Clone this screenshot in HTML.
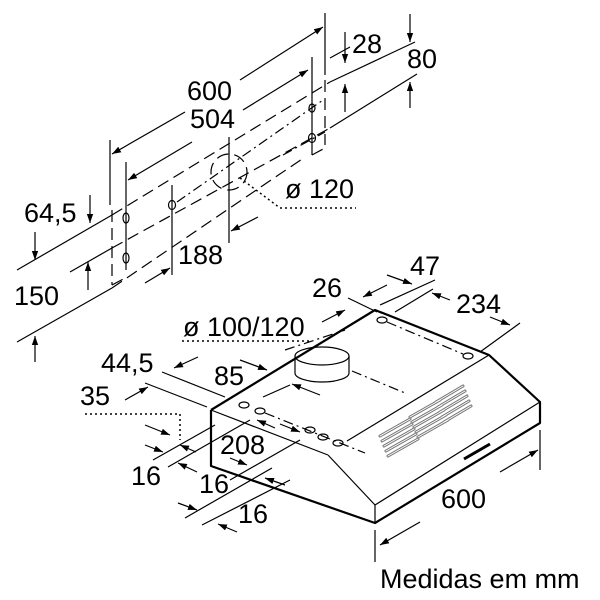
<!DOCTYPE html>
<html><head><meta charset="utf-8"><style>
html,body{margin:0;padding:0;background:#fff;width:600px;height:600px;overflow:hidden}
svg{display:block}
text{font-family:"Liberation Sans",sans-serif;fill:#000}
</style></head><body>
<svg width="600" height="600" viewBox="0 0 600 600" xmlns="http://www.w3.org/2000/svg">
<defs>
<marker id="a" viewBox="0 0 10 10" refX="10" refY="5" markerWidth="9" markerHeight="9" orient="auto-start-reverse" markerUnits="userSpaceOnUse"><path d="M0,1.5 L10,5 L0,8.5 z" fill="#000"/></marker>
</defs>
<g stroke="#000" stroke-width="1.2" fill="none">
<line x1="110" y1="140" x2="110" y2="205"/>
<line x1="325" y1="13" x2="325" y2="75"/>
<line x1="126" y1="162" x2="126" y2="270"/>
<line x1="312" y1="57" x2="312" y2="155"/>
<line x1="172" y1="185" x2="172" y2="275"/>
<line x1="229" y1="137" x2="229" y2="243"/>
<line x1="112" y1="154" x2="185" y2="112" marker-start="url(#a)"/>
<line x1="240" y1="80" x2="323" y2="27" marker-end="url(#a)"/>
<line x1="128" y1="180" x2="192" y2="142" marker-start="url(#a)"/>
<line x1="243" y1="110" x2="308" y2="70" marker-end="url(#a)"/>
<line x1="17" y1="270" x2="112" y2="215"/>
<line x1="330" y1="82" x2="415" y2="42"/>
<line x1="70" y1="272" x2="112" y2="248"/>
<line x1="330" y1="128" x2="417" y2="74"/>
<line x1="17" y1="342" x2="112" y2="288"/>
<line x1="330" y1="58" x2="350" y2="47"/>
<g stroke-dasharray="12,6">
<line x1="112" y1="215" x2="330" y2="82"/>
<line x1="112" y1="248" x2="330" y2="128"/>
<line x1="112" y1="288" x2="305" y2="157"/>
<line x1="112" y1="210" x2="112" y2="285"/>
<line x1="325" y1="80" x2="325" y2="145"/>
<line x1="112" y1="285" x2="127" y2="277"/>
<line x1="312" y1="155" x2="325" y2="148"/>
<circle cx="229" cy="172" r="18"/>
</g>
<g stroke-dasharray="10,4,2,4">
<line x1="177" y1="202" x2="323" y2="100"/>
<line x1="283" y1="155" x2="325" y2="132"/>
</g>
<ellipse cx="126" cy="218" rx="3" ry="5"/>
<ellipse cx="126" cy="258" rx="3" ry="5"/>
<ellipse cx="172" cy="205" rx="3.5" ry="4.5"/>
<ellipse cx="312" cy="108" rx="3" ry="4"/>
<ellipse cx="312" cy="138" rx="3.5" ry="4.5"/>
<polyline points="240,178 280,208 356,208" stroke-dasharray="2,3" stroke-width="1.5"/>
<line x1="145" y1="283" x2="170" y2="268" marker-end="url(#a)"/>
<line x1="258" y1="217" x2="231" y2="231" marker-end="url(#a)"/>
<line x1="345" y1="32" x2="345" y2="63" marker-end="url(#a)"/>
<line x1="345" y1="112" x2="345" y2="84" marker-end="url(#a)"/>
<line x1="410" y1="14" x2="410" y2="42" marker-end="url(#a)"/>
<line x1="410" y1="108" x2="410" y2="82" marker-end="url(#a)"/>
<line x1="90" y1="195" x2="90" y2="223" marker-end="url(#a)"/>
<line x1="35" y1="232" x2="35" y2="260" marker-end="url(#a)"/>
<line x1="88" y1="290" x2="88" y2="262" marker-end="url(#a)"/>
<line x1="35" y1="362" x2="35" y2="336" marker-end="url(#a)"/>

<g stroke-width="2.2" stroke-linejoin="round">
<polyline points="211,410 375,310 489,355 540,402 540,423 375,523 211,466 211,410"/>
</g>
<line x1="211" y1="410" x2="328" y2="455"/>
<line x1="328" y1="455" x2="375" y2="505"/>
<line x1="375" y1="505" x2="540" y2="402"/>
<line x1="375" y1="505" x2="375" y2="523"/>
<line x1="347" y1="441" x2="489" y2="355"/>
<ellipse cx="322" cy="356" rx="27" ry="9"/>
<path d="M295,356 L295,373 A27,9 0 0 0 349,373 L349,356"/>
<ellipse cx="382" cy="320" rx="5" ry="3"/>
<ellipse cx="468" cy="356" rx="5" ry="3"/>
<ellipse cx="244" cy="405" rx="5" ry="3"/>
<ellipse cx="260" cy="411" rx="5" ry="3"/>
<ellipse cx="310" cy="430" rx="5" ry="3"/>
<ellipse cx="323" cy="437" rx="5" ry="3"/>
<ellipse cx="338" cy="443" rx="5" ry="3"/>
<g stroke-dasharray="10,4,2,4">
<line x1="387" y1="322" x2="463" y2="354"/>
<line x1="352" y1="371" x2="405" y2="393"/>
<line x1="285" y1="350" x2="345" y2="330"/>
<line x1="265" y1="413" x2="365" y2="453"/>
</g>
<line x1="464" y1="459" x2="490" y2="444" stroke-width="3"/>
<g stroke="#777" stroke-width="3" stroke-linecap="round">
<line x1="380" y1="436" x2="410" y2="419"/><line x1="382" y1="441" x2="412" y2="424"/><line x1="384" y1="446" x2="414" y2="429"/><line x1="386" y1="451" x2="416" y2="434"/><line x1="388" y1="456" x2="418" y2="439"/>
<line x1="410" y1="417" x2="440" y2="400"/><line x1="412" y1="422" x2="442" y2="405"/><line x1="414" y1="427" x2="444" y2="410"/><line x1="416" y1="432" x2="446" y2="415"/><line x1="418" y1="437" x2="448" y2="420"/>
<line x1="436" y1="402" x2="463" y2="386"/><line x1="438" y1="407" x2="465" y2="391"/><line x1="440" y1="412" x2="467" y2="396"/><line x1="442" y1="417" x2="469" y2="401"/><line x1="444" y1="422" x2="471" y2="406"/>
</g>
<g stroke="#fff" stroke-width="1" stroke-linecap="round">
<line x1="380" y1="436" x2="410" y2="419"/><line x1="382" y1="441" x2="412" y2="424"/><line x1="384" y1="446" x2="414" y2="429"/><line x1="386" y1="451" x2="416" y2="434"/><line x1="388" y1="456" x2="418" y2="439"/>
<line x1="410" y1="417" x2="440" y2="400"/><line x1="412" y1="422" x2="442" y2="405"/><line x1="414" y1="427" x2="444" y2="410"/><line x1="416" y1="432" x2="446" y2="415"/><line x1="418" y1="437" x2="448" y2="420"/>
<line x1="436" y1="402" x2="463" y2="386"/><line x1="438" y1="407" x2="465" y2="391"/><line x1="440" y1="412" x2="467" y2="396"/><line x1="442" y1="417" x2="469" y2="401"/><line x1="444" y1="422" x2="471" y2="406"/>
</g>
<line x1="348" y1="298" x2="377" y2="312"/>
<line x1="380" y1="305" x2="435" y2="280"/>
<line x1="395" y1="312" x2="433" y2="289"/>
<line x1="480" y1="352" x2="520" y2="323"/>
<line x1="387" y1="285" x2="363" y2="297" marker-end="url(#a)"/>
<line x1="387" y1="275" x2="412" y2="284" marker-end="url(#a)"/>
<line x1="450" y1="300" x2="432" y2="293" marker-end="url(#a)"/>
<line x1="490" y1="317" x2="510" y2="325" marker-end="url(#a)"/>
<line x1="322" y1="322" x2="345" y2="310" marker-end="url(#a)"/>
<polyline points="182,341 310,341" stroke-dasharray="2,3" stroke-width="1.5"/>
<line x1="162" y1="372" x2="225" y2="397"/>
<line x1="145" y1="383" x2="207" y2="407"/>
<line x1="198" y1="357" x2="174" y2="368" marker-end="url(#a)"/>
<line x1="240" y1="360" x2="267" y2="370" marker-end="url(#a)"/>
<line x1="320" y1="395" x2="292" y2="384" marker-end="url(#a)"/>
<line x1="263" y1="397" x2="290" y2="385"/>
<line x1="125" y1="400" x2="148" y2="387" marker-end="url(#a)"/>
<line x1="145" y1="425" x2="170" y2="435" marker-end="url(#a)"/>
<polyline points="85,414 180,414 180,440" stroke-dasharray="2,3" stroke-width="1.5"/>
<line x1="153" y1="460" x2="215" y2="425"/>
<line x1="168" y1="467" x2="250" y2="420"/>
<line x1="185" y1="518" x2="272" y2="468"/>
<line x1="202" y1="525" x2="290" y2="480"/>
<line x1="230" y1="480" x2="300" y2="440"/>
<line x1="145" y1="445" x2="163" y2="452" marker-end="url(#a)"/>
<line x1="196" y1="452" x2="180" y2="445" marker-end="url(#a)"/>
<line x1="197" y1="472" x2="178" y2="463" marker-end="url(#a)"/>
<line x1="230" y1="458" x2="247" y2="465" marker-end="url(#a)"/>
<line x1="285" y1="485" x2="265" y2="478" marker-end="url(#a)"/>
<line x1="178" y1="503" x2="197" y2="510" marker-end="url(#a)"/>
<line x1="237" y1="532" x2="218" y2="524" marker-end="url(#a)"/>
<line x1="275" y1="428" x2="257" y2="420" marker-end="url(#a)"/>
<line x1="280" y1="424" x2="300" y2="432" marker-end="url(#a)"/>
<line x1="375" y1="530" x2="375" y2="562"/>
<line x1="540" y1="430" x2="540" y2="470"/>
<line x1="420" y1="522" x2="380" y2="545" marker-end="url(#a)"/>
<line x1="500" y1="472" x2="538" y2="450" marker-end="url(#a)"/>
</g>
<g font-size="27">
<text x="187" y="100">600</text>
<text x="190" y="128">504</text>
<text x="352" y="53">28</text>
<text x="407" y="68">80</text>
<text x="24" y="222">64,5</text>
<text x="285" y="198">ø 120</text>
<text x="178" y="264">188</text>
<text x="14" y="305">150</text>
<text x="410" y="275">47</text>
<text x="312" y="297">26</text>
<text x="456" y="313">234</text>
<text x="183" y="336">ø 100/120</text>
<text x="101" y="372">44,5</text>
<text x="214" y="385">85</text>
<text x="80" y="405">35</text>
<text x="220" y="454">208</text>
<text x="131" y="485">16</text>
<text x="199" y="493">16</text>
<text x="238" y="523">16</text>
<text x="441" y="508">600</text>
<text x="380" y="588">Medidas em mm</text>
</g>
</svg>
</body></html>
